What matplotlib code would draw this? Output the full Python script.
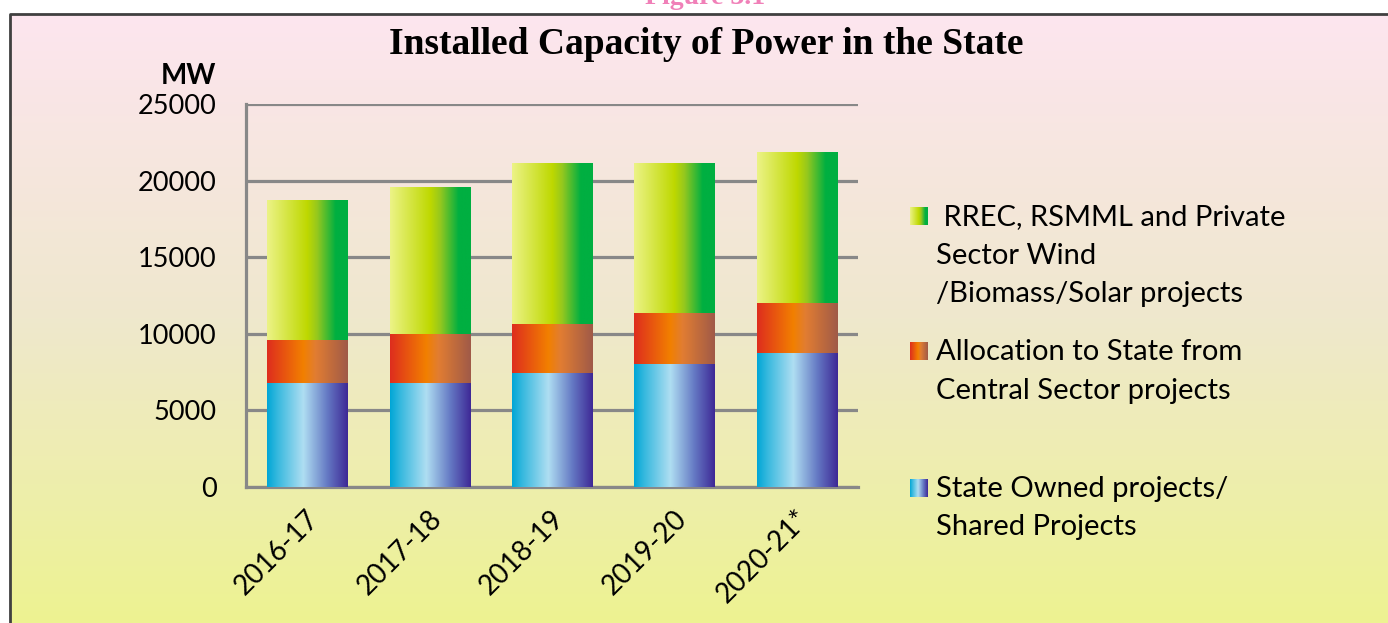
import numpy as np
import matplotlib
matplotlib.use("Agg")
import matplotlib.pyplot as plt
from matplotlib.colors import LinearSegmentedColormap
from matplotlib.transforms import ScaledTranslation

# ---------------- data ----------------
years = ["2016-17", "2017-18", "2018-19", "2019-20", "2020-21*"]
state_owned = [6790, 6790, 7440, 8030, 8750]
central_alloc = [2805, 3215, 3200, 3330, 3260]
renewable = [9075, 9575, 10445, 9790, 9855]
series_labels = [
    " RREC, RSMML and Private\nSector Wind\n/Biomass/Solar projects",
    "Allocation to State from\nCentral Sector projects",
    "State Owned projects/\nShared Projects",
]
yticks = [0, 5000, 10000, 15000, 20000, 25000]
title = "Installed Capacity of Power in the State"

W, H = 1388, 623
fig = plt.figure(figsize=(W / 100, H / 100), dpi=100)

# gradient maps
blue_cm = LinearSegmentedColormap.from_list("b", [(0, (0/255, 166/255, 214/255)), (0.12, (0.2, 0.72, 0.87)),
                                                  (0.45, (175/255, 222/255, 242/255)), (0.75, (100/255, 120/255, 195/255)),
                                                  (1, (62/255, 40/255, 150/255))])
red_cm = LinearSegmentedColormap.from_list("r", [(0, (222/255, 45/255, 30/255)), (0.45, (242/255, 128/255, 0)),
                                                 (0.6, (225/255, 125/255, 50/255)), (1, (160/255, 90/255, 72/255))])
green_cm = LinearSegmentedColormap.from_list("g", [(0, (236/255, 243/255, 135/255)), (0.5, (190/255, 216/255, 0)),
                                                   (0.62, (150/255, 200/255, 30/255)), (0.85, (0, 175/255, 65/255)),
                                                   (1, (0, 175/255, 65/255))])
grad = np.linspace(0, 1, 256).reshape(1, -1)

# ---------------- background ----------------
bg = fig.add_axes([0, 0, 1, 1], zorder=0)
bg.set_xlim(0, W)
bg.set_ylim(H, 0)
bg.axis("off")
bg_cm = LinearSegmentedColormap.from_list("bg", [(0, (253/255, 229/255, 239/255)), (0.5, (239/255, 232/255, 205/255)),
                                                (1, (237/255, 243/255, 145/255))])
bg.imshow(np.linspace(0, 1, 256).reshape(-1, 1), cmap=bg_cm, extent=[10, W, H, 14], aspect="auto", zorder=0)
bg.plot([10, 10, W], [H, 14, 14], color="#404040", lw=2, solid_capstyle="butt", zorder=1)
bg.text(705, -2, "Figure 3.1", ha="center", va="center", color="#F080B8", fontsize=20,
        fontweight="bold", family="Liberation Serif", zorder=2)
bg.text(706, 45, title, ha="center", va="center", fontsize=27, fontweight="bold",
        family="Liberation Serif", color="black", zorder=2)
bg.text(216, 84, "MW", ha="right", va="baseline", fontsize=20, fontweight="bold", family="Lato", zorder=2)

# legend (manual, gradient swatches)
leg_items = [(green_cm, series_labels[0], 225), (red_cm, series_labels[1], 360), (blue_cm, series_labels[2], 497)]
for cm, lab, base in leg_items:
    bg.imshow(grad, cmap=cm, extent=[910, 928, base, base - 17.5], aspect="auto", zorder=2)
    for i, line in enumerate(lab.split("\n")):
        bg.text(936, base + i * 38.5, line, ha="left", va="baseline", fontsize=21, family="Lato", zorder=2)

# ---------------- main axes ----------------
ax = fig.add_axes([246 / W, 136 / H, 612 / W, 383 / H], zorder=1)
ax.set_facecolor("none")
x = np.arange(len(years))
width = 0.655
bottoms = np.zeros(len(years))
for vals, cm in [(state_owned, blue_cm), (central_alloc, red_cm), (renewable, green_cm)]:
    bars = ax.bar(x, vals, width, bottom=bottoms, color="none", edgecolor="none", zorder=3)
    for b in bars:
        x0, y0 = b.get_x(), b.get_y()
        ax.imshow(grad, cmap=cm, extent=[x0, x0 + b.get_width(), y0, y0 + b.get_height()],
                  aspect="auto", zorder=3)
    bottoms += np.array(vals)

ax.set_xlim(-0.5, len(years) - 0.5)
ax.set_ylim(0, 25000)
ax.set_aspect("auto")
ax.set_yticks(yticks)
ax.set_yticklabels([str(v) for v in yticks], fontsize=19.5, family="Lato")
ax.yaxis.grid(True, color="#888888", lw=2.3, zorder=1)
ax.set_axisbelow(True)
ax.tick_params(axis="both", length=0)
ax.tick_params(axis="x", pad=18)
ax.tick_params(axis="y", pad=21)
ax.set_xticks(x)
ax.set_xticklabels(years, rotation=45, ha="right", va="center", rotation_mode="anchor",
                   fontsize=20, family="Lato")
off = ScaledTranslation(8 / 100, -3 / 100, fig.dpi_scale_trans)
for lbl in ax.get_xticklabels():
    lbl.set_transform(lbl.get_transform() + off)
for s in ["top", "right"]:
    ax.spines[s].set_visible(False)
for s in ["left", "bottom"]:
    ax.spines[s].set_color("#888888")
    ax.spines[s].set_linewidth(2.3)

fig.savefig("out.png", dpi=100)
